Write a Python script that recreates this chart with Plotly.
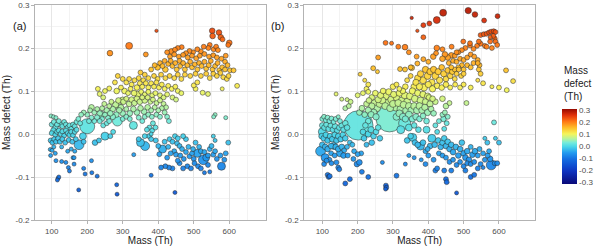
import math
import plotly.graph_objects as go

# ---------------- data: (mass Th, mass defect Th, relative signal) ----------------
A_RED_TOP = [(395,0.240,0.7),(552,0.240,2),(553,0.228,2),(571,0.236,2),(576,0.225,2),(581,0.220,1.5),(600,0.212,2),(597,0.207,1.5),(318,0.205,3),(264,0.188,2),(365,0.185,1.5),(545,0.207,1.5),(541,0.200,1.5),(528,0.203,1.5),(556,0.197,1.5),(563,0.203,1.5),(568,0.195,1.5),(520,0.192,1.5),(510,0.197,1.5),(498,0.190,1.5),(488,0.193,1.5),(478,0.188,1.5),(466,0.202,1.5),(455,0.200,1.5),(447,0.196,1.5),(437,0.192,2),(425,0.190,1.5),(433,0.180,1.5),(445,0.185,1.5),(458,0.180,1.5),(470,0.184,1.5),(483,0.178,1.5),(495,0.182,1.5),(507,0.176,1.5),(517,0.182,1.5),(530,0.186,1.5),(543,0.180,1.5),(555,0.183,1.5),(565,0.178,1.5),(578,0.175,1.5),(588,0.168,1.5),(590,0.182,1.5)]
A_ORANGE = [(380,0.150,1.5),(390,0.160,1.5),(398,0.155,2),(405,0.165,1.5),(412,0.158,1.5),(418,0.170,1.5),(420,0.150,2),(428,0.163,1.5),(435,0.170,1.5),(440,0.158,1.5),(448,0.165,1.5),(452,0.150,1.5),(460,0.170,1.5),(462,0.158,1.5),(470,0.165,1.5),(475,0.150,1.5),(482,0.160,1.5),(490,0.168,1.5),(495,0.155,1.5),(503,0.162,1.5),(510,0.150,1.5),(515,0.165,1.5),(522,0.158,1.5),(530,0.168,1.5),(535,0.152,1.5),(542,0.160,1.5),(548,0.170,1.5),(553,0.150,1.5),(560,0.158,1.5),(567,0.165,1.5),(572,0.148,1.5),(580,0.155,1.5),(588,0.150,1.5),(595,0.160,1.5),(602,0.148,1.5),(612,0.148,1.5),(555,0.140,1.5),(565,0.135,1.5),(575,0.142,1.5),(583,0.132,1.5),(593,0.128,1.5),(598,0.135,1.5),(545,0.130,1.5),(535,0.140,1.5),(520,0.135,1.5),(505,0.140,1.5),(490,0.135,1.5),(475,0.138,1.5),(465,0.128,1.5),(455,0.138,1.5),(445,0.130,1.5),(432,0.135,1.5),(420,0.130,1.5),(408,0.138,1.5),(398,0.128,1.5),(388,0.135,1.5),(372,0.130,1.5),(362,0.138,1.5),(350,0.143,1.5),(345,0.130,1.5),(358,0.125,1.5),(622,0.112,1.5),(580,0.105,1),(540,0.093,1.5),(525,0.096,1.5),(505,0.105,1.5),(500,0.113,1.5),(510,0.120,1.5)]
A_YELLOW = [(278,0.120,1.5),(286,0.135,1.5),(300,0.128,1.5),(310,0.120,1.5),(318,0.128,1.5),(325,0.115,1.5),(333,0.125,1.5),(340,0.108,2),(348,0.118,1.5),(355,0.110,1.5),(365,0.118,1.5),(372,0.108,1.5),(380,0.118,1.5),(388,0.110,1.5),(395,0.120,1.5),(402,0.108,1.5),(410,0.115,1.5),(418,0.105,1.5),(428,0.112,1.5),(438,0.105,1.5),(448,0.110,1.5),(455,0.100,1.5),(465,0.095,1.5),(262,0.106,1.5),(250,0.100,1.5),(283,0.100,2),(295,0.108,1.5),(305,0.100,2),(315,0.095,1.5),(322,0.105,1.5),(332,0.095,2),(342,0.092,2.5),(352,0.098,1.5),(362,0.092,1.5),(372,0.098,1.5),(383,0.090,1.5),(392,0.095,1.5),(405,0.090,1.5),(415,0.085,1.5),(425,0.092,1.5),(440,0.085,1.5),(450,0.080,1.5),(235,0.093,1.5),(245,0.085,1.5)]
A_GREEN = [(200,0.045,1.5),(208,0.055,1.5),(212,0.062,2),(220,0.050,1.5),(228,0.058,1.5),(235,0.048,2),(242,0.060,1.5),(248,0.070,1.5),(255,0.055,2),(262,0.065,1.5),(268,0.075,1.5),(272,0.058,2),(280,0.068,2.5),(288,0.078,2),(295,0.062,2),(302,0.075,2),(310,0.082,1.5),(318,0.070,2),(325,0.080,2),(333,0.072,2),(340,0.082,2),(348,0.075,2),(355,0.085,1.5),(362,0.078,2),(370,0.085,1.5),(378,0.075,1.5),(385,0.080,1.5),(395,0.072,1.5),(405,0.078,1.5),(415,0.070,1.5),(422,0.062,1.5),(410,0.060,1.5),(400,0.055,1.5),(390,0.062,1.5),(380,0.055,1.5),(370,0.062,2),(360,0.052,2),(350,0.060,2),(340,0.050,2),(330,0.058,2),(320,0.048,2),(310,0.058,1.5),(300,0.048,2),(290,0.055,2),(282,0.045,2),(272,0.040,2),(265,0.048,2),(258,0.038,1.5),(250,0.045,1.5),(242,0.035,1.5),(235,0.030,1.5),(228,0.038,2),(220,0.030,1.5),(212,0.038,1.5),(205,0.030,1.5),(245,0.020,1.5),(255,0.025,1.5),(262,0.030,1.5),(300,0.035,1.5),(310,0.040,1.5),(320,0.035,1.5),(345,0.038,1.5),(355,0.030,1.5),(362,0.040,1.5),(372,0.045,1.5),(382,0.040,1.5),(395,0.045,1.5),(405,0.040,1.5),(418,0.050,1.5),(425,0.040,1.5),(430,0.030,1.5),(385,0.025,1.5),(375,0.015,1.5),(383,0.008,1.5),(392,0.015,1.5),(368,0.010,1.5),(560,0.045,1),(556,0.040,1),(590,0.038,1),(230,0.105,1.5),(190,0.050,1.5),(183,0.045,1.5)]
A_LARGE = [(200,0.018,14),(285,0.030,6),(330,0.020,4),(250,-0.005,4),(177,-0.025,6),(188,-0.005,3),(240,0.045,3),(290,0.062,3),(300,0.078,3)]
A_LEFT = [(98,0.042,1),(105,0.040,1),(112,0.038,1),(100,0.022,1.5),(106,0.028,1.5),(110,0.015,2),(115,0.022,1.5),(120,0.030,1.5),(125,0.022,2),(130,0.018,1.5),(135,0.028,1.5),(140,0.022,1.5),(145,0.015,1.5),(150,0.020,1.5),(155,0.012,1.5),(160,0.022,1.5),(165,0.018,1.5),(170,0.028,1.5),(175,0.035,1.5),(180,0.025,1.5),(100,0.002,1.5),(105,0.008,2),(110,-0.002,1.5),(115,0.005,1.5),(120,0.008,1.5),(125,0.000,1.5),(130,0.006,1.5),(135,-0.004,1.5),(140,0.008,1.5),(145,0.002,1.5),(150,-0.002,1.5),(155,0.005,1.5),(160,-0.003,1.5),(165,0.005,1.5),(170,0.010,1.5),(97,-0.015,1.5),(102,-0.020,1.5),(107,-0.012,1.5),(112,-0.018,1.5),(118,-0.010,1.5),(123,-0.018,1.5),(130,-0.012,1.5),(138,-0.020,1.5),(148,-0.014,1.5),(158,-0.018,1.5),(168,-0.012,1.5),(96,-0.036,1),(101,-0.038,1),(106,-0.030,1),(97,-0.050,1),(110,-0.045,1),(128,-0.030,1),(145,-0.040,1),(155,-0.035,1),(165,-0.040,1),(190,-0.018,1.5),(160,-0.055,1),(222,-0.020,2),(233,-0.015,1.5),(265,-0.005,1.5),(273,0.005,1.5)]
A_LOW_LEFT = [(112,-0.062,1),(128,-0.064,1),(140,-0.066,1),(147,-0.078,1),(150,-0.086,1),(163,-0.055,1),(163,-0.070,1),(118,-0.103,1),(120,-0.100,1),(116,-0.107,1),(176,-0.130,1),(190,-0.080,1),(194,-0.093,1),(212,-0.062,1),(213,-0.090,1),(228,-0.098,1),(283,-0.118,1),(284,-0.140,1)]
A_LOW_RIGHT = [(350,-0.020,4),(363,-0.028,5),(412,-0.035,4),(510,-0.045,4),(527,-0.060,6),(535,-0.055,3),(578,-0.075,4),(331,-0.048,1),(345,-0.012,1.5),(374,-0.005,1.5),(380,-0.012,1.5),(393,-0.015,1.5),(400,-0.028,1.5),(403,-0.047,1.5),(418,-0.018,1.5),(428,-0.030,1.5),(432,-0.012,1.5),(440,-0.018,1.5),(445,-0.040,1.5),(447,-0.005,1.5),(450,-0.048,1.5),(453,-0.022,1.5),(460,-0.028,1.5),(462,-0.050,1.5),(467,-0.035,1.5),(472,-0.058,1.5),(478,-0.042,1.5),(485,-0.030,1.5),(488,-0.052,1.5),(495,-0.045,1.5),(500,-0.058,1.5),(498,-0.035,1.5),(515,-0.030,1.5),(520,-0.040,1.5),(530,-0.042,1.5),(540,-0.050,1.5),(545,-0.035,1.5),(550,-0.028,1.5),(555,-0.048,1.5),(560,-0.040,1.5),(565,-0.058,1.5),(575,-0.050,1.5),(590,-0.045,1.5),(597,-0.020,1.5),(560,-0.015,1),(555,-0.005,1),(586,-0.060,1.5),(460,-0.068,1.5),(470,-0.080,1.5),(482,-0.075,1.5),(492,-0.080,1.5),(502,-0.068,1.5),(512,-0.075,1.5),(520,-0.080,1.5),(540,-0.072,1.5),(530,-0.090,1),(545,-0.088,1),(440,-0.080,1.5),(430,-0.078,1.5),(455,-0.062,1.5),(420,-0.075,1.5),(408,-0.078,1.5),(380,-0.096,1),(447,-0.136,1),(362,-0.005,1.5),(380,0.000,1),(435,-0.045,1.5),(425,-0.055,1.5),(505,-0.020,1.5),(478,-0.012,1.5),(470,-0.005,1.5),(455,-0.010,1.5)]

B_TOP = [(353,0.270,0.7),(369,0.240,0.7),(386,0.253,1.5),(386,0.225,1.5),(403,0.257,1.5),(424,0.265,3),(442,0.282,3),(513,0.287,2.5),(532,0.278,2),(558,0.264,1.5),(596,0.274,1.5),(548,0.230,1.5),(557,0.232,1.5),(565,0.233,1.5),(572,0.236,1.5),(578,0.238,1.5),(585,0.239,1.5),(590,0.237,1.5),(575,0.225,1),(588,0.222,1.5),(590,0.215,1.5),(595,0.207,1.5),(580,0.200,1.5),(560,0.205,1.5),(548,0.210,1.5),(538,0.205,1.5),(528,0.198,1.5),(518,0.206,1.5),(505,0.200,1.5),(495,0.195,1.5),(485,0.190,1.5),(475,0.182,1.5),(465,0.183,2),(455,0.178,2),(447,0.185,2),(440,0.175,2),(458,0.165,1.5),(470,0.170,1.5),(480,0.168,1.5),(490,0.175,1.5),(500,0.172,1.5),(510,0.178,1.5),(520,0.185,1.5),(530,0.180,1.5),(540,0.172,1.5),(545,0.160,1.5),(543,0.150,1.5),(548,0.140,1.5),(540,0.125,1),(495,0.160,1.5),(485,0.155,1.5),(475,0.150,1.5),(465,0.155,1.5),(500,0.150,1.5),(510,0.160,1.5),(520,0.155,1.5),(528,0.165,1.5)]
B_UPPER_MID = [(279,0.212,1.5),(296,0.211,1),(315,0.203,1.5),(334,0.202,2),(345,0.190,1.5),(367,0.180,1.5),(258,0.178,1.5),(244,0.153,1.5),(256,0.145,1),(207,0.139,1),(139,0.093,1),(155,0.081,1),(353,0.154,2),(320,0.151,1.5),(334,0.150,1.5),(369,0.164,1.5),(386,0.174,1.5),(400,0.168,1.5),(414,0.180,2),(422,0.188,1.5),(424,0.200,2),(440,0.197,1.5),(466,0.203,1.5),(480,0.190,1.5),(499,0.215,1.5),(518,0.211,1.5),(543,0.215,1.5),(565,0.203,1.5),(575,0.215,1.5),(584,0.228,1.5)]
B_YELLOW = [(370,0.130,2.5),(378,0.140,2.5),(385,0.125,3),(392,0.150,2.5),(398,0.135,3),(405,0.145,2.5),(410,0.120,2.5),(415,0.150,2.5),(420,0.135,3),(428,0.145,2.5),(432,0.125,2.5),(438,0.155,2),(444,0.140,2.5),(450,0.128,2),(455,0.148,2),(462,0.135,2),(468,0.145,2),(475,0.128,1.5),(480,0.140,1.5),(486,0.150,1.5),(493,0.135,1.5),(500,0.140,1.5),(360,0.110,2.5),(365,0.120,2.5),(375,0.110,2.5),(388,0.108,3),(400,0.115,2.5),(412,0.105,2.5),(425,0.112,2),(438,0.108,2),(450,0.115,2),(462,0.108,1.5),(476,0.115,1.5),(490,0.108,1.5),(500,0.115,1.5),(520,0.108,1.5),(508,0.072,1.5),(580,0.110,1),(600,0.108,1.5),(622,0.102,1.5),(620,0.148,1.5),(640,0.123,1.5),(540,0.165,1.5),(555,0.118,1.5),(350,0.135,1.5),(340,0.125,1.5),(335,0.110,2),(328,0.100,2),(318,0.105,1.5),(310,0.115,1.5),(300,0.110,2),(350,0.155,1.5),(402,0.085,2),(420,0.075,2),(440,0.082,2),(450,0.065,2),(460,0.072,1.5)]
B_GREEN = [(200,0.090,1.5),(215,0.095,1.5),(225,0.105,1.5),(230,0.098,1.5),(240,0.085,2),(250,0.095,2),(258,0.080,2.5),(265,0.090,2.5),(272,0.100,2),(280,0.088,3),(288,0.098,2.5),(295,0.080,3),(302,0.092,2.5),(310,0.085,3),(318,0.095,2.5),(325,0.078,3),(333,0.090,3),(340,0.075,3),(348,0.088,3),(355,0.100,2.5),(362,0.082,3),(370,0.095,2.5),(378,0.078,3),(385,0.092,2.5),(392,0.075,2.5),(398,0.088,2.5),(405,0.070,2.5),(412,0.082,2),(225,0.070,2),(232,0.078,2),(240,0.065,2.5),(248,0.072,3),(255,0.060,3),(262,0.070,3),(270,0.078,3),(278,0.065,3),(285,0.072,3.5),(292,0.060,3),(300,0.070,3),(308,0.062,3.5),(315,0.072,3),(322,0.058,3.5),(330,0.068,3),(338,0.055,3.5),(345,0.065,3),(352,0.055,3),(360,0.065,3),(368,0.055,3),(375,0.065,3),(382,0.055,2.5),(390,0.062,2.5),(398,0.050,2.5),(408,0.058,2),(415,0.048,2),(205,0.050,2),(212,0.060,2),(220,0.045,2),(230,0.055,2.5),(238,0.045,2.5),(245,0.050,3),(252,0.040,2.5),(310,0.040,3),(318,0.048,3),(328,0.040,3),(335,0.035,2.5),(345,0.045,3),(355,0.035,2.5),(365,0.040,2.5),(375,0.035,2),(385,0.042,2),(395,0.030,2),(360,0.020,2),(345,0.015,3),(372,0.010,2),(230,0.030,2),(222,0.020,2),(215,0.005,2),(218,-0.010,2),(230,0.000,2.5),(238,0.010,2.5),(245,-0.005,2),(252,0.005,2),(258,0.015,2),(263,-0.010,2),(240,-0.020,2),(225,-0.025,1.5),(230,0.115,1.5),(220,0.125,1),(165,0.060,1.5),(175,0.065,1.5),(180,0.075,1.5),(170,0.080,1)]
B_LARGE = [(202,0.020,54),(290,0.036,45),(333,0.025,9),(322,0.010,4),(395,0.010,3),(410,-0.010,4),(356,-0.008,4),(378,-0.028,4),(578,-0.072,6),(95,-0.040,6),(108,-0.055,4),(150,-0.045,3),(132,-0.028,3),(118,-0.010,3),(100,0.005,4)]
B_LEFT = [(100,0.035,1.5),(105,0.040,1.5),(110,0.032,1.5),(115,0.038,1.5),(120,0.030,1.5),(126,0.036,1.5),(132,0.028,1.5),(138,0.035,1.5),(145,0.040,1),(150,0.030,1.5),(100,0.020,2),(106,0.015,2),(112,0.022,2),(118,0.012,2),(124,0.020,2),(130,0.010,2),(136,0.018,2),(142,0.008,2),(148,0.015,2),(155,0.020,2),(160,0.010,2),(165,0.025,2),(170,0.015,2),(98,-0.005,2),(104,-0.010,2),(110,-0.002,2),(115,-0.015,2),(122,-0.005,2),(128,-0.012,2),(135,-0.002,2),(140,-0.015,2),(145,-0.005,2),(152,-0.012,2),(158,-0.002,2),(165,-0.010,2),(100,-0.025,2),(108,-0.030,2),(115,-0.035,2),(125,-0.028,2),(138,-0.030,2),(145,-0.035,2),(155,-0.030,2),(162,-0.038,1.5),(170,-0.030,1.5),(178,-0.020,1.5),(185,-0.025,1.5),(190,-0.040,1.5),(210,-0.045,1.5),(172,-0.050,1.5),(160,-0.050,2),(125,-0.045,1.5),(135,-0.050,1.5),(120,-0.060,1.5),(105,-0.070,1.5),(112,-0.062,1.5)]
B_LOW_LEFT = [(115,-0.095,1.5),(118,-0.100,1.5),(121,-0.098,1.5),(126,-0.068,1.5),(140,-0.066,1.5),(145,-0.078,1.5),(148,-0.082,1.5),(165,-0.115,1.5),(178,-0.105,1.5),(188,-0.058,1.5),(198,-0.070,2),(205,-0.066,2),(212,-0.088,1.5),(230,-0.100,1.5),(280,-0.120,1.5),(281,-0.125,1.5),(279,-0.128,1),(310,-0.097,1.5),(270,-0.066,1),(335,-0.070,1),(200,-0.047,1.5)]
B_LOW_RIGHT = [(340,-0.015,2),(350,-0.005,2),(362,-0.020,2),(370,-0.025,2),(385,-0.020,2),(392,-0.040,1.5),(398,-0.035,1.5),(405,-0.028,2),(418,-0.025,2),(428,-0.015,2),(435,-0.030,2),(440,-0.020,2),(445,-0.010,2),(450,-0.028,2),(455,-0.018,2),(460,-0.035,2),(465,-0.025,2),(470,-0.042,2),(478,-0.030,2),(485,-0.050,2),(490,-0.035,2),(495,-0.020,2),(500,-0.045,2),(505,-0.055,2),(510,-0.040,2),(515,-0.060,2),(520,-0.030,1.5),(525,-0.048,2),(532,-0.040,2),(540,-0.050,1.5),(545,-0.035,1.5),(555,-0.045,1.5),(560,-0.060,1.5),(568,-0.050,1.5),(575,-0.058,2),(588,-0.068,1.5),(595,-0.068,1.5),(600,-0.020,1.5),(590,-0.010,1),(567,-0.020,1.5),(560,-0.010,1),(572,-0.040,1.5),(430,-0.045,1.5),(440,-0.050,1.5),(450,-0.055,1.5),(460,-0.065,1.5),(470,-0.060,1.5),(480,-0.072,1.5),(490,-0.065,1.5),(500,-0.075,1.5),(510,-0.068,1.5),(520,-0.070,1.5),(530,-0.065,1.5),(540,-0.080,1.5),(548,-0.070,1.5),(555,-0.078,1),(420,-0.085,1.5),(425,-0.080,1.5),(445,-0.085,1.5),(450,-0.105,1.5),(452,-0.112,1.5),(480,-0.137,1),(520,-0.100,1.5),(530,-0.095,1.5),(505,-0.085,1.5),(465,-0.085,1.5),(380,-0.060,1),(392,-0.070,1.5),(400,-0.050,1.5),(360,-0.055,1),(345,-0.050,1),(415,-0.060,1.5)]
B_CYAN_MID = [(440,0.045,1.5),(447,0.050,1.5),(443,0.035,2),(455,0.040,1.5),(430,0.030,1.5),(420,0.020,1.5),(425,0.005,1.5),(586,0.027,1.5),(445,0.012,1.5),(452,0.025,1.5)]

MASS_TICKS = [100, 200, 300, 400, 500, 600]
MASS_TICK_TEXT = ["100", "200", "300", "400", "500", "600"]
DEFECT_TICKS = [-0.2, -0.1, 0.0, 0.1, 0.2, 0.3]
DEFECT_TICK_TEXT = ["-0.2", "-0.1", "0.0", "0.1", "0.2", "0.3"]
SCALE_TICKS = [-0.3, -0.2, -0.1, 0.0, 0.1, 0.2, 0.3]
SCALE_TICK_TEXT = ["-0.3", "-0.2", "-0.1", "0.0", "0.1", "0.2", "0.3"]

panel_a = A_LARGE + A_RED_TOP + A_ORANGE + A_YELLOW + A_GREEN + A_LEFT + A_LOW_LEFT + A_LOW_RIGHT
panel_b = B_LARGE + B_TOP + B_UPPER_MID + B_YELLOW + B_GREEN + B_LEFT + B_LOW_LEFT + B_LOW_RIGHT + B_CYAN_MID


def split(points):
    pts = sorted(points, key=lambda p: -p[2])
    return [p[0] for p in pts], [p[1] for p in pts], [4.0 * math.sqrt(p[2]) for p in pts]


JET = [
    [0.000, "rgb(10,10,120)"],
    [0.167, "rgb(15,50,190)"],
    [0.250, "rgb(15,80,210)"],
    [0.333, "rgb(20,110,225)"],
    [0.417, "rgb(35,155,240)"],
    [0.500, "rgb(75,215,232)"],
    [0.550, "rgb(115,235,220)"],
    [0.600, "rgb(180,243,160)"],
    [0.667, "rgb(245,245,90)"],
    [0.750, "rgb(255,190,40)"],
    [0.833, "rgb(255,120,20)"],
    [0.917, "rgb(225,50,10)"],
    [1.000, "rgb(150,10,0)"],
]

fig = go.Figure()
for pts, xa, ya in [(panel_a, "x", "y"), (panel_b, "x2", "y2")]:
    xs, ys, ss = split(pts)
    fig.add_trace(go.Scatter(
        x=xs, y=ys, mode="markers", xaxis=xa, yaxis=ya, showlegend=False,
        hoverinfo="skip",
        marker=dict(size=ss, color=ys, coloraxis="coloraxis", opacity=0.95,
                    line=dict(color="rgba(40,40,40,0.9)", width=0.6)),
    ))

W, H = 600, 246
FONT = "Liberation Sans, Arial, sans-serif"
tick_font = dict(family=FONT, size=8, color="#4D4D4D")
title_font = dict(family=FONT, size=10, color="#1A1A1A")


def xaxis(domain, rng):
    return dict(domain=domain, range=rng, tickvals=MASS_TICKS, ticktext=MASS_TICK_TEXT,
                automargin=False,
                showgrid=True, gridcolor="#E6E6E6", gridwidth=0.7, zeroline=False,
                minor=dict(tickvals=[150, 250, 350, 450, 550, 650], showgrid=True,
                           gridcolor="#F3F3F3", gridwidth=0.5),
                showline=True, linecolor="#B3B3B3", linewidth=1, mirror=True,
                ticks="outside", ticklen=3, tickcolor="#B3B3B3", tickfont=tick_font,
                title=dict(text="Mass (Th)", font=title_font, standoff=2))


def yaxis(domain, anchor):
    return dict(domain=domain, range=[-0.2, 0.3], tickvals=DEFECT_TICKS, ticktext=DEFECT_TICK_TEXT,
                anchor=anchor, automargin=False,
                showgrid=True, gridcolor="#E6E6E6", gridwidth=0.7, zeroline=False,
                minor=dict(tickvals=[-0.15, -0.05, 0.05, 0.15, 0.25], showgrid=True,
                           gridcolor="#F3F3F3", gridwidth=0.5),
                showline=True, linecolor="#B3B3B3", linewidth=1, mirror=True,
                ticks="outside", ticklen=3, tickcolor="#B3B3B3", tickfont=tick_font,
                title=dict(text="Mass defect (Th)", font=title_font, standoff=3))


ydom = [1 - 220 / H, 1 - 5 / H]
fig.update_layout(
    width=W, height=H, margin=dict(l=0, r=0, t=0, b=0, autoexpand=False),
    paper_bgcolor="white", plot_bgcolor="white",
    xaxis=xaxis([35 / W, 265.7 / W], [53, 702.5]),
    yaxis=yaxis(ydom, "x"),
    xaxis2=xaxis([304.3 / W, 535 / W], [49, 702]),
    yaxis2=yaxis(ydom, "x2"),
    coloraxis=dict(
        colorscale=JET, cmin=-0.31, cmax=0.31,
        colorbar=dict(x=562 / W, xanchor="left", y=1 - 146 / H, yanchor="middle",
                      xref="container", yref="container", xpad=0, ypad=0,
                      len=75 / H, lenmode="fraction", thickness=15, outlinewidth=0,
                      tickvals=SCALE_TICKS, ticktext=SCALE_TICK_TEXT, ticks="",
                      tickfont=tick_font, title=dict(text="")),
    ),
    annotations=[
        dict(text="(a)", x=11 / W, y=1 - 18 / H, xref="paper", yref="paper", showarrow=False,
             font=dict(family=FONT, size=11, color="#1A1A1A")),
        dict(text="(b)", x=277 / W, y=1 - 18 / H, xref="paper", yref="paper", showarrow=False,
             font=dict(family=FONT, size=11, color="#1A1A1A")),
        dict(text="Mass<br>defect<br>(Th)", x=562 / W, y=1 - 63 / H, xref="paper", yref="paper",
             xanchor="left", yanchor="top", align="left", showarrow=False,
             font=dict(family=FONT, size=10, color="#1A1A1A")),
    ],
)

fig.write_html("out.html", config={"displayModeBar": False},
               post_script="document.body.style.margin='0';document.body.style.overflow='hidden';")
